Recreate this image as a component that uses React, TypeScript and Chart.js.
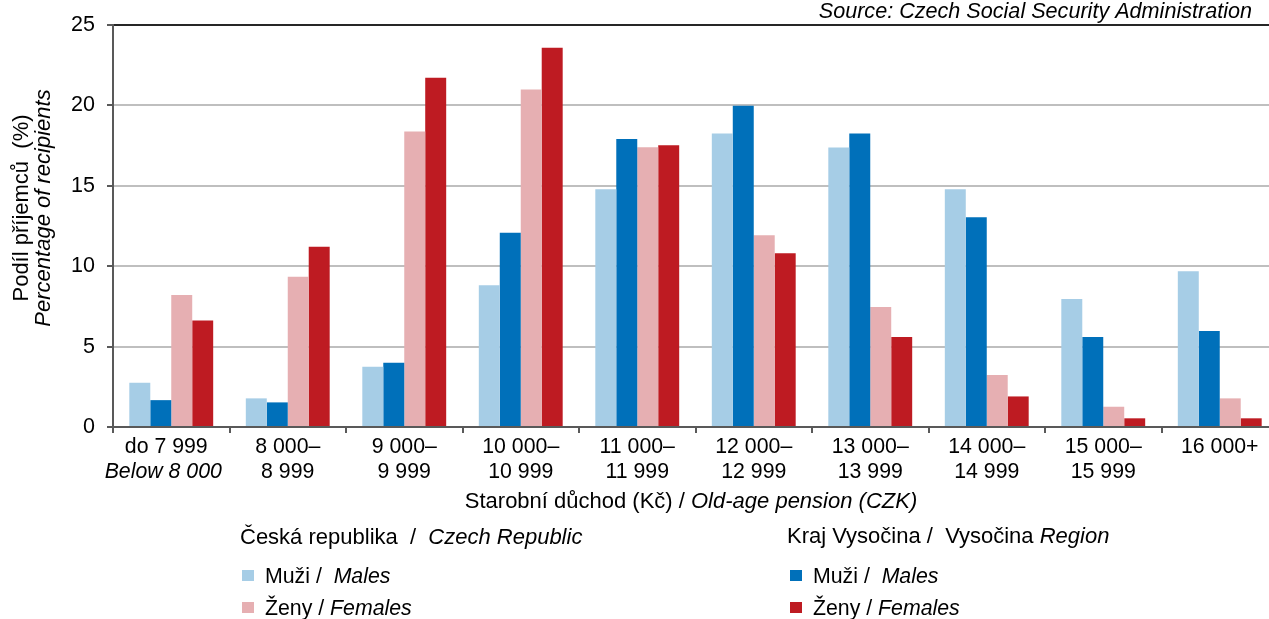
import React, { useEffect, useRef } from "react";
import { Chart, registerables } from "chart.js";

Chart.register(...registerables);

// ---- Data ----
const categoryLine1 = ["do 7 999", "8 000–", "9 000–", "10 000–", "11 000–", "12 000–", "13 000–", "14 000–", "15 000–", "16 000+"];
const categoryLine2 = ["Below 8 000", "8 999", "9 999", "10 999", "11 999", "12 999", "13 999", "14 999", "15 999", ""];
const czMales = [2.75, 1.78, 3.74, 8.82, 14.78, 18.25, 17.38, 14.78, 7.96, 9.69];
const vysMales = [1.67, 1.53, 3.99, 12.07, 17.9, 19.98, 18.25, 13.04, 5.6, 5.97];
const czFemales = [8.21, 9.34, 18.37, 20.98, 17.4, 11.92, 7.46, 3.24, 1.26, 1.78];
const vysFemales = [6.62, 11.2, 21.72, 23.58, 17.52, 10.81, 5.6, 1.9, 0.54, 0.54];
const yTicks = [0, 5, 10, 15, 20, 25];

const FONT = '"Liberation Sans", Arial, sans-serif';
const SIZE = 21;
const COLORS = { czM: "#A6CDE6", vysM: "#0070BA", czF: "#E6AFB2", vysF: "#BE1B22" };

type Seg = [string, boolean];

function drawRich(ctx: CanvasRenderingContext2D, segs: Seg[], x: number, y: number, align: "left" | "center" | "right", size: number = SIZE) {
  const widths = segs.map(([t, it]) => {
    ctx.font = `${it ? "italic " : ""}${size}px ${FONT}`;
    return ctx.measureText(t).width;
  });
  const total = widths.reduce((a, b) => a + b, 0);
  let cx = align === "center" ? x - total / 2 : align === "right" ? x - total : x;
  ctx.textAlign = "left";
  ctx.textBaseline = "alphabetic";
  segs.forEach(([t, it], i) => {
    ctx.font = `${it ? "italic " : ""}${size}px ${FONT}`;
    ctx.fillText(t, cx, y);
    cx += widths[i];
  });
}

const textPlugin = {
  id: "customText",
  afterDraw(chart: any) {
    const ctx: CanvasRenderingContext2D = chart.ctx;
    const xs = chart.scales.x;
    const area = chart.chartArea;
    ctx.save();
    ctx.fillStyle = "#000";

    // x category labels
    categoryLine1.forEach((t, i) => {
      const px = xs.getPixelForValue(i);
      const shift1 = i === 0 ? -5 : 0;
      const shift2 = i === 0 ? -8 : 0;
      drawRich(ctx, [[t, false]], px + shift1, 453, "center", 21.3);
      if (categoryLine2[i]) drawRich(ctx, [[categoryLine2[i], i === 0]], px + shift2, 478, "center", 21.3);
    });

    // x axis title
    drawRich(ctx, [["Starobní důchod (Kč) / ", false], ["Old-age pension (CZK)", true]], 691, 508, "center", 22);

    // y axis title
    ctx.save();
    ctx.translate(28, 208);
    ctx.rotate(-Math.PI / 2);
    drawRich(ctx, [["Podíl příjemců  (%)", false]], 0, 0, "center", 22);
    ctx.restore();
    ctx.save();
    ctx.translate(50, 208);
    ctx.rotate(-Math.PI / 2);
    drawRich(ctx, [["Percentage of recipients", true]], 0, 0, "center", 22);
    ctx.restore();

    // source
    drawRich(ctx, [["Source: Czech Social Security Administration", true]], 1252, 18, "right", 21.6);

    // legend
    const ds = chart.data.datasets;
    drawRich(ctx, [["Česká republika  /  ", false], ["Czech Republic", true]], 240, 544, "left", 22);
    drawRich(ctx, [["Kraj Vysočina /  Vysočina ", false], ["Region", true]], 787, 543, "left", 22);
    const items: [number, number, number, Seg[]][] = [
      [0, 242, 583, [["Muži /  ", false], ["Males", true]]],
      [2, 242, 615, [["Ženy / ", false], ["Females", true]]],
      [1, 790, 583, [["Muži /  ", false], ["Males", true]]],
      [3, 790, 615, [["Ženy / ", false], ["Females", true]]],
    ];
    items.forEach(([di, x, y, segs]) => {
      ctx.fillStyle = ds[di].backgroundColor;
      ctx.fillRect(x, y - 13, 12, 11);
      ctx.fillStyle = "#000";
      drawRich(ctx, segs, x + 23, y, "left", 21.3);
    });
    ctx.restore();
  },
};

export default function App() {
  const ref = useRef<HTMLCanvasElement | null>(null);
  useEffect(() => {
    if (!ref.current) return;
    const chart = new Chart(ref.current, {
      type: "bar",
      data: {
        labels: categoryLine1.map((t, i) => `${t} ${categoryLine2[i]}`.trim()),
        datasets: [
          { label: "Česká republika – Muži / Males", data: czMales, backgroundColor: COLORS.czM },
          { label: "Kraj Vysočina – Muži / Males", data: vysMales, backgroundColor: COLORS.vysM },
          { label: "Česká republika – Ženy / Females", data: czFemales, backgroundColor: COLORS.czF },
          { label: "Kraj Vysočina – Ženy / Females", data: vysFemales, backgroundColor: COLORS.vysF },
        ],
      },
      options: {
        responsive: false,
        animation: false,
        layout: { padding: { top: 24, left: 0, right: 0, bottom: 0 } },
        datasets: { bar: { categoryPercentage: 0.72, barPercentage: 1, borderWidth: 0 } },
        plugins: { legend: { display: false }, tooltip: { enabled: false }, title: { display: false } },
        scales: {
          x: {
            grid: { drawOnChartArea: false, drawTicks: true, tickLength: 6, tickColor: "#595959", offset: true, lineWidth: 2 },
            border: { color: "#595959", width: 2 },
            ticks: { display: false },
            afterFit: (s: any) => {
              s.height = 192;
            },
          },
          y: {
            min: 0,
            max: 25,
            afterBuildTicks: (s: any) => {
              s.ticks = yTicks.map((v) => ({ value: v }));
            },
            ticks: { color: "#000", font: { family: FONT, size: 21.5 }, padding: 12 },
            grid: {
              color: (c: any) => (c.tick && c.tick.value === 25 ? "#262626" : "#BFBFBF"),
              lineWidth: 2,
              tickLength: 6,
              tickColor: "#595959",
            },
            border: { color: "#595959", width: 2 },
            afterFit: (s: any) => {
              s.width = 113;
            },
          },
        },
      } as any,
      plugins: [textPlugin],
    });
    return () => chart.destroy();
  }, []);
  return (
    <div style={{ position: "absolute", left: 0, top: 0, width: 1269, height: 619, overflow: "hidden", background: "#fff" }}>
      <canvas ref={ref} width={1278} height={619} style={{ width: 1278, height: 619, display: "block" }} />
    </div>
  );
}
